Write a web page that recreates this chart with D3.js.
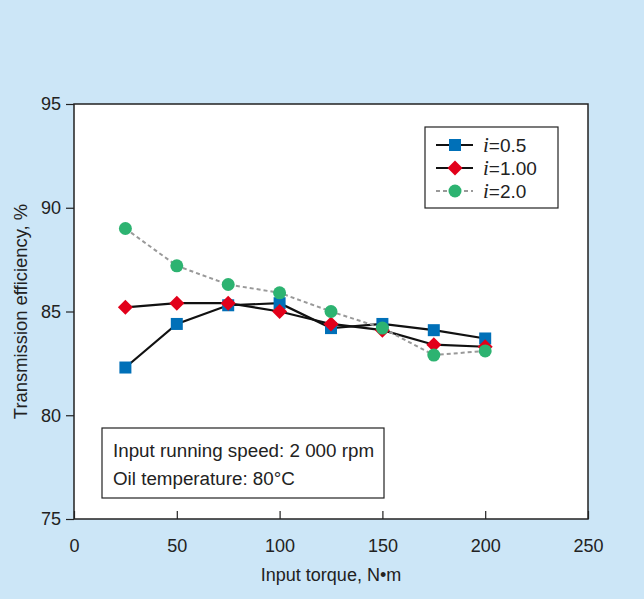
<!DOCTYPE html>
<html>
<head>
<meta charset="utf-8">
<script src="https://cdn.jsdelivr.net/npm/d3@7"></script>
<style>
  html, body { margin: 0; padding: 0; background: #cce6f7; }
  svg { display: block; font-family: "Liberation Sans", Arial, sans-serif; }
</style>
</head>
<body>
<div id="chart"></div>
<script>
// data
const torque = [25, 50, 75, 100, 125, 150, 175, 200];
const eff05 = [82.3, 84.4, 85.3, 85.4, 84.2, 84.4, 84.1, 83.7];
const eff100 = [85.2, 85.4, 85.4, 85.0, 84.4, 84.1, 83.4, 83.3];
const eff20 = [89.0, 87.2, 86.3, 85.9, 85.0, 84.2, 82.9, 83.1];
const xTicks = [0, 50, 100, 150, 200, 250];
const yTicks = [75, 80, 85, 90, 95];

const W = 644, H = 599;
const margin = { left: 74, right: 56, top: 104, bottom: 80 };
const FONT = "Liberation Sans, Arial, sans-serif";

const svg = d3.select("#chart").append("svg")
    .attr("width", W)
    .attr("height", H);

svg.append("rect").attr("width", W).attr("height", H).attr("fill", "#cce6f7");

const x = d3.scaleLinear().domain([0, 250]).range([margin.left, W - margin.right]);
const y = d3.scaleLinear().domain([75, 95]).range([H - margin.bottom, margin.top]);

// plot area
svg.append("rect")
    .attr("x", x(0)).attr("y", y(95))
    .attr("width", x(250) - x(0)).attr("height", y(75) - y(95))
    .attr("fill", "#fff")
    .attr("stroke", "#222")
    .attr("stroke-width", 1.5);

// x axis, ticks point inward
const xAxis = svg.append("g")
    .attr("transform", `translate(0,${y(75)})`)
    .call(d3.axisBottom(x).tickValues(xTicks).tickSizeInner(-8).tickSizeOuter(0).tickPadding(20));
xAxis.select(".domain").remove();
xAxis.selectAll("line").attr("stroke", "#222").attr("stroke-width", 1.2);
xAxis.selectAll("text").attr("font-size", 18).attr("fill", "#222").attr("font-family", FONT);

// y axis, ticks point outward
const yAxis = svg.append("g")
    .attr("transform", `translate(${x(0)},0)`)
    .call(d3.axisLeft(y).tickValues(yTicks).tickSizeInner(8).tickSizeOuter(0).tickPadding(5));
yAxis.select(".domain").remove();
yAxis.selectAll("line").attr("stroke", "#222").attr("stroke-width", 1.2);
yAxis.selectAll("text").attr("font-size", 18).attr("fill", "#222").attr("font-family", FONT);

// axis titles
svg.append("text")
    .attr("x", (x(0) + x(250)) / 2)
    .attr("y", 581)
    .attr("text-anchor", "middle")
    .attr("font-size", 18)
    .attr("fill", "#222")
    .text("Input torque, N\u2022m");

svg.append("text")
    .attr("transform", `translate(27,${(y(75) + y(95)) / 2}) rotate(-90)`)
    .attr("text-anchor", "middle")
    .attr("font-size", 18.4)
    .attr("fill", "#222")
    .text("Transmission efficiency, %");

const series = [
    { name: "0.5", values: eff05, color: "#0070b8", shape: "square", line: "#111", dash: null },
    { name: "1.00", values: eff100, color: "#e2001a", shape: "diamond", line: "#111", dash: null },
    { name: "2.0", values: eff20, color: "#2db371", shape: "circle", line: "#999", dash: "4,3" }
];

const line = d3.line().x(d => x(d[0])).y(d => y(d[1]));

function drawMarker(g, s, cx, cy) {
    if (s.shape === "square") {
        g.append("rect").attr("x", cx - 6).attr("y", cy - 6).attr("width", 12).attr("height", 12).attr("fill", s.color);
    } else if (s.shape === "diamond") {
        g.append("path")
            .attr("d", `M${cx},${cy - 7.5}L${cx + 7.5},${cy}L${cx},${cy + 7.5}L${cx - 7.5},${cy}Z`)
            .attr("fill", s.color);
    } else {
        g.append("circle").attr("cx", cx).attr("cy", cy).attr("r", 6.5).attr("fill", s.color);
    }
}

// lines first, then markers
series.forEach(s => {
    svg.append("path")
        .datum(torque.map((t, i) => [t, s.values[i]]))
        .attr("d", line)
        .attr("fill", "none")
        .attr("stroke", s.line)
        .attr("stroke-width", s.dash ? 2 : 2.2)
        .attr("stroke-dasharray", s.dash);
});
series.forEach(s => {
    const g = svg.append("g");
    torque.forEach((t, i) => drawMarker(g, s, x(t), y(s.values[i])));
});

// legend
const legend = svg.append("g");
legend.append("rect")
    .attr("x", 425).attr("y", 127).attr("width", 133).attr("height", 81)
    .attr("fill", "#fff").attr("stroke", "#222").attr("stroke-width", 1.2);
series.forEach((s, i) => {
    const cy = 145 + i * 23;
    legend.append("line")
        .attr("x1", 436).attr("x2", 473).attr("y1", cy).attr("y2", cy)
        .attr("stroke", s.line).attr("stroke-width", 2)
        .attr("stroke-dasharray", s.dash);
    drawMarker(legend, s, 455, cy);
    const t = legend.append("text").attr("x", 483).attr("y", cy + 7).attr("font-size", 19).attr("fill", "#222");
    t.append("tspan").attr("font-family", "Liberation Serif, serif").attr("font-style", "italic").attr("font-size", 21).text("i");
    t.append("tspan").text("=" + s.name);
});

// conditions box
const note = svg.append("g");
note.append("rect")
    .attr("x", 102).attr("y", 428).attr("width", 282).attr("height", 70)
    .attr("fill", "#fff").attr("stroke", "#222").attr("stroke-width", 1.2);
note.append("text").attr("x", 113).attr("y", 457).attr("font-size", 18.8).attr("fill", "#222")
    .text("Input running speed: 2 000 rpm");
note.append("text").attr("x", 113).attr("y", 485).attr("font-size", 18.8).attr("fill", "#222")
    .text("Oil temperature: 80\u00b0C");
</script>
</body>
</html>
